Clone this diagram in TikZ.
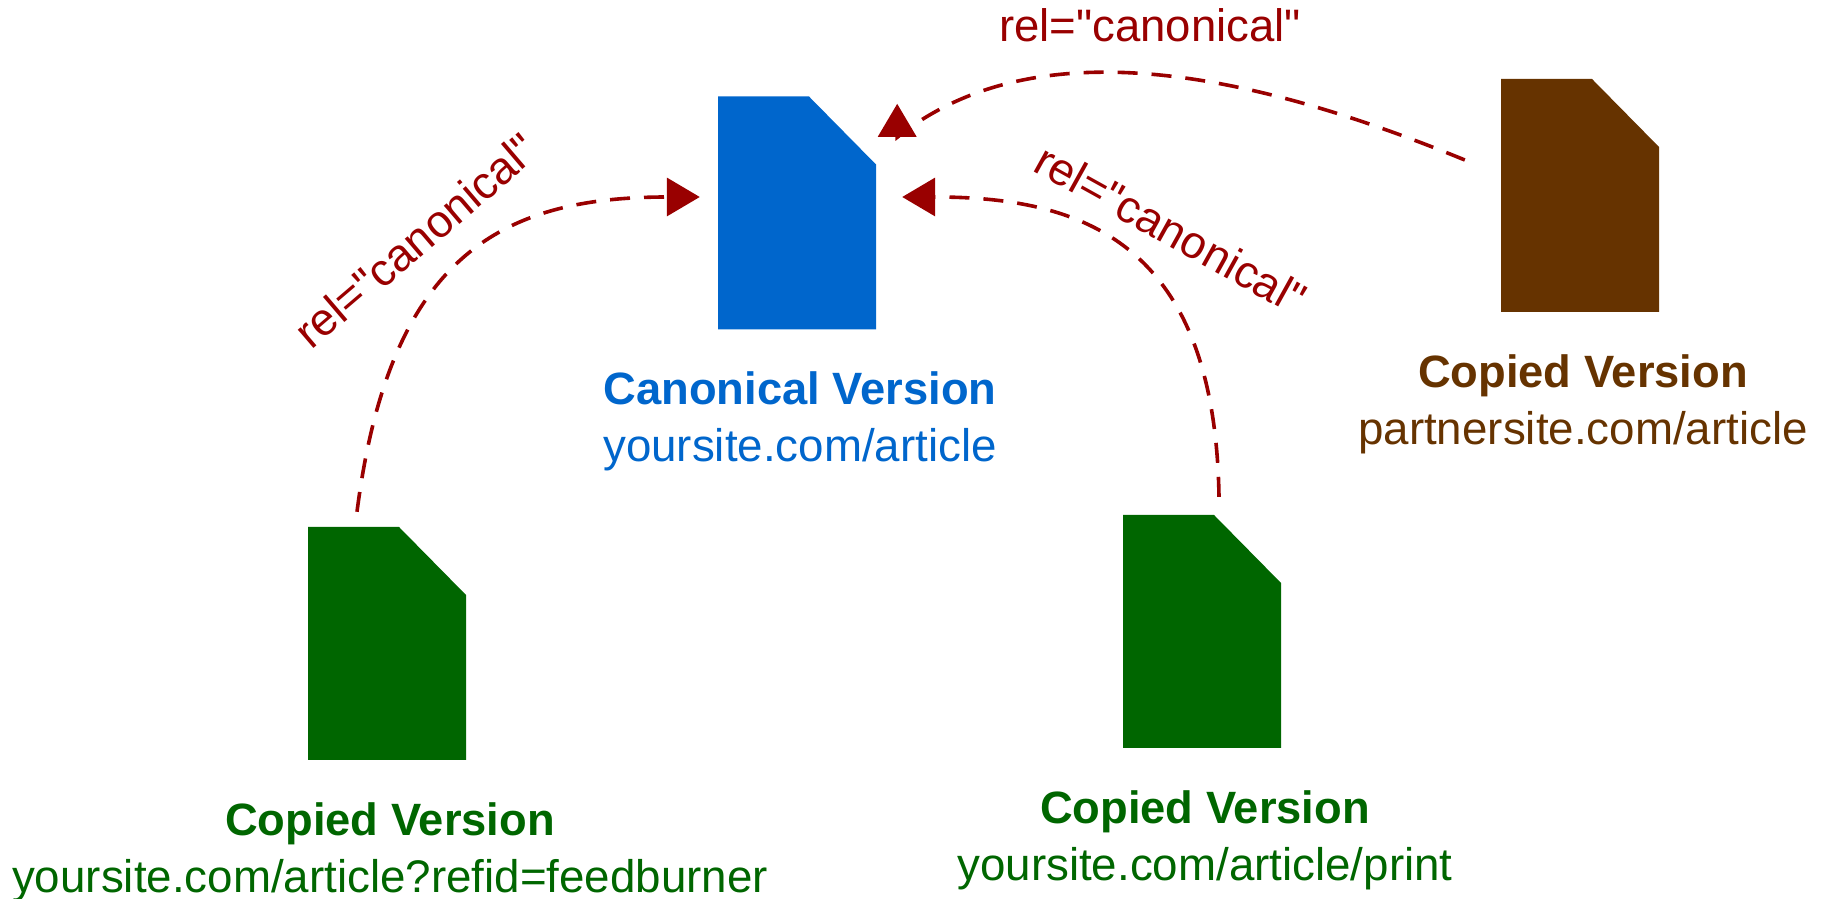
\documentclass[tikz,border=0pt]{standalone}
\usepackage{fontspec}
\setmainfont{Liberation Sans}[Ligatures=TeXOff]
\usetikzlibrary{positioning,arrows.meta}
\definecolor{canonblue}{HTML}{0066CC}
\definecolor{copygreen}{HTML}{006600}
\definecolor{copybrown}{HTML}{663300}
\definecolor{relred}{HTML}{990000}
\newcommand{\doctitle}[1]{{\fontsize{45.3}{57}\selectfont\bfseries #1}}

\begin{document}
\begin{tikzpicture}[x=1pt, y=1pt, node distance=42pt]
    % Define styles
    \tikzstyle{docpage} = [rectangle, minimum width=158pt, minimum height=233pt, inner sep=0pt, path picture={\fill [#1] (path picture bounding box.south west) -- (path picture bounding box.north west) -- ([xshift=-67pt]path picture bounding box.north east) -- ([yshift=-68pt]path picture bounding box.north east) -- (path picture bounding box.south east) -- cycle;}]
    \tikzstyle{doclabel} = [align=center, font=\fontsize{45.7}{57}\selectfont, inner sep=0pt, xshift=3pt]
    \tikzstyle{rellabel} = [text=relred, font=\fontsize{45.5}{55}\selectfont, inner sep=0pt]
    \tikzstyle{relline} = [draw=relred, line width=3.6pt, dash pattern=on 20pt off 14pt, -{Triangle[length=33pt,width=38pt]}]

    \useasboundingbox (0,0) rectangle (1824,899);

    % Document pages
    \node [docpage=canonblue] (canonical) at (797,686) {};
    \node [docpage=copybrown] (partner) at (1580,703.5) {};
    \node [docpage=copygreen] (feedburner) at (387,255.5) {};
    \node [docpage=copygreen] (print) at (1202,267.5) {};

    % Labels below the pages
    \node [doclabel, text=canonblue, below=of canonical] (canonicaltext) {\doctitle{Canonical Version}\\yoursite.com/article};
    \node [doclabel, text=copybrown, below=of partner] (partnertext) {\doctitle{Copied Version}\\partnersite.com/article};
    \node [doclabel, text=copygreen, below=of feedburner] (feedburnertext) {\doctitle{Copied Version}\\yoursite.com/article?refid=feedburner};
    \node [doclabel, text=copygreen, below=of print] (printtext) {\doctitle{Copied Version}\\yoursite.com/article/print};

    % Labels on the connectors
    \node [rellabel] (topnote) at (1150,874) {rel="canonical"};
    \node [rellabel, rotate=40.5] (leftnote) at (415.5,658.5) {rel="canonical"};
    \node [rellabel, rotate=-29] (rightnote) at (1171,670) {rel="canonical"};

    % Dashed connectors
    \draw [relline] ([xshift=-30pt,yshift=15pt]feedburner.north) .. controls (390,645) and (503,702) .. ([xshift=-18pt,yshift=16pt]canonical.west);
    \draw [relline] ([xshift=17pt,yshift=18pt]print.north) .. controls (1215,659) and (1080,702) .. ([xshift=26pt,yshift=16pt]canonical.east);
    \draw [relline] ([xshift=-36pt,yshift=35.5pt]partner.west) .. controls (1250,827) and (1035,872) .. ([xshift=21pt,yshift=-41pt]canonical.north east) -- ([xshift=21pt,yshift=-7.5pt]canonical.north east);
\end{tikzpicture}
\end{document}
